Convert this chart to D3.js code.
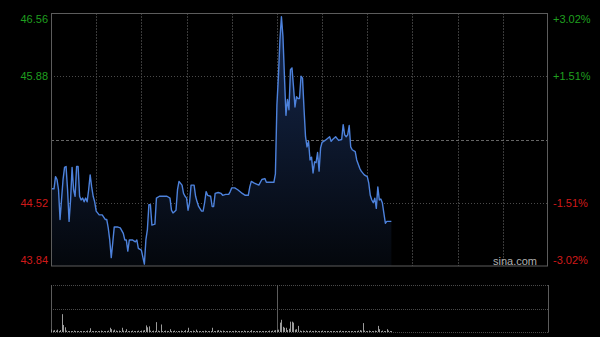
<!DOCTYPE html>
<html>
<head>
<meta charset="utf-8">
<style>
  body { margin: 0; background: #000; }
  svg { display: block; }
</style>
</head>
<body>
<svg id="chart" width="600" height="337"></svg>
<script src="https://d3js.org/d3.v7.min.js"></script>
<script>
// intraday minutes since open (HK session: 330 trading minutes, lunch after 150)
const minutes = [0,2,3,4,5,6,8,9,10,11,12,13,14,15,16,17,18,19,20,21,22,23,24,25,26,27,28,29,30,32,34,36,37,38,39,40,41,42,44,46,48,49,50,51,52,54,56,57,58,60,62,63,64,65,66,67,69,70,72,75,77,79,80,81,83,84,85,87,88,89,90,91,92,93,95,96,97,98,100,101,102,103,104,106,107,108,109,111,113,114,116,118,119,120,122,124,127,129,131,132,133,135,138,140,142,143,145,148,149,150,151,152,153,154,155,156,157,158,159,160,161,162,163,164,165,166,167,168,169,170,171,172,173,174,175,176,177,178,179,180,182,185,186,187,189,190,191,193,194,195,196,197,198,199,200,202,203,205,206,208,210,211,212,213,214,215,216,217,218,219,220,222,223,226]
const prices = [44.67,44.67,44.80,44.77,44.66,44.34,44.77,44.90,44.91,44.66,44.32,44.55,44.90,44.66,44.59,44.91,44.91,44.59,44.55,44.57,44.53,44.57,44.53,44.66,44.82,44.69,44.59,44.53,44.43,44.39,44.39,44.34,44.34,44.25,44.12,43.93,44.09,44.26,44.26,44.25,44.19,44.12,44.12,44.00,44.12,44.12,44.10,44.12,44.03,44.01,43.86,44.12,44.23,44.50,44.50,44.28,44.29,44.57,44.59,44.59,44.59,44.57,44.44,44.41,44.44,44.66,44.75,44.71,44.62,44.59,44.57,44.44,44.52,44.71,44.71,44.59,44.53,44.48,44.43,44.43,44.52,44.64,44.60,44.59,44.48,44.48,44.62,44.63,44.62,44.60,44.61,44.61,44.64,44.68,44.68,44.66,44.62,44.60,44.60,44.69,44.75,44.73,44.71,44.77,44.78,44.74,44.74,44.74,44.83,45.57,45.88,46.27,46.52,46.31,45.88,45.46,45.63,45.52,45.95,45.97,45.77,45.55,45.66,45.64,45.64,45.88,45.86,45.53,45.23,45.12,45.18,44.98,45.01,44.84,44.96,44.95,45.06,44.86,45.11,45.17,45.19,45.23,45.18,45.20,45.23,45.21,45.19,45.20,45.36,45.25,45.23,45.25,45.35,45.12,45.09,45.07,44.98,44.89,44.86,44.82,44.80,44.73,44.60,44.55,44.52,44.57,44.46,44.69,44.55,44.56,44.52,44.30,44.32,44.32]

// volume per minute, minute 0..226
const volumes = [
  5,3,4,3,5,2,4,38,15,10,
  3,2,2,2,2,3,2,2,2,2,
  2,2,2,2,3,2,8,2,2,2,
  2,2,2,3,2,2,2,2,3,9,
  6,3,5,3,2,3,2,9,3,2,
  6,2,2,2,3,2,2,2,3,2,
  3,3,4,14,10,12,3,2,3,2,
  21,3,2,16,2,2,3,2,2,6,
  2,2,3,2,2,2,3,2,2,4,
  2,9,2,2,3,2,5,2,2,2,
  2,2,3,2,2,2,2,9,2,2,
  3,4,3,2,3,2,2,2,2,2,
  2,2,3,2,2,2,2,2,3,2,
  2,2,2,4,2,2,2,2,2,2,
  2,2,2,2,2,3,2,3,3,4,
  4,5,20,26,11,9,9,4,7,22,
  22,20,5,6,13,3,2,3,2,3,
  2,2,3,2,2,3,2,2,2,2,
  3,2,2,2,2,2,2,2,2,2,
  2,2,3,2,2,2,2,2,2,2,
  2,2,2,2,3,4,3,19,3,2,
  2,3,2,2,2,3,2,13,6,2,
  3,2,2,6,3,2,2
]

const priceTicks = [46.56, 45.88, 45.20, 44.52, 43.84]
const leftLabels = ['46.56', '45.88', '', '44.52', '43.84']
const rightLabels = ['+3.02%', '+1.51%', '', '-1.51%', '-3.02%']
const gridMinutes = [30, 60, 90, 120, 150, 180, 210, 240, 270, 300]

const svg = d3.select('#chart')
svg.append('rect').attr('width', 600).attr('height', 337).attr('fill', '#000')

const x = d3.scaleLinear().domain([0, 330]).range([51, 548])
const y = d3.scaleLinear().domain([43.84, 46.56]).range([266, 13])
const yv = d3.scaleLinear().domain([0, 100]).range([332, 285])

// fill gradient
const defs = svg.append('defs')
const grad = defs.append('linearGradient').attr('id', 'fillGrad')
  .attr('gradientUnits', 'userSpaceOnUse')
  .attr('x1', 0).attr('y1', 13).attr('x2', 0).attr('y2', 266)
grad.append('stop').attr('offset', 0).attr('stop-color', '#16294f')
grad.append('stop').attr('offset', 1).attr('stop-color', '#04070c')

// grid - main chart
const grid = svg.append('g')
grid.selectAll('line.v').data(gridMinutes).enter().append('line')
  .attr('x1', d => Math.round(x(d)) + 0.5).attr('x2', d => Math.round(x(d)) + 0.5)
  .attr('y1', 13).attr('y2', 266)
  .attr('stroke', '#3a3a3a').attr('stroke-dasharray', '2,1')
grid.selectAll('line.h').data(priceTicks.slice(1, 4)).enter().append('line')
  .attr('x1', 51).attr('x2', 548)
  .attr('y1', d => Math.round(y(d)) + 0.5).attr('y2', d => Math.round(y(d)) + 0.5)
  .attr('stroke', (d, i) => i === 1 ? '#666' : '#4a4a4a')
  .attr('stroke-dasharray', (d, i) => i === 1 ? '3,2' : '1,2')

// area + line
const pts = minutes.map((m, i) => [m, prices[i]])
svg.append('path').datum(pts)
  .attr('fill', 'url(#fillGrad)')
  .attr('d', d3.area().x(d => x(d[0])).y0(266).y1(d => y(d[1])))
svg.append('path').datum(pts)
  .attr('fill', 'none')
  .attr('stroke', '#4d82dc')
  .attr('stroke-width', 1.4)
  .attr('stroke-linejoin', 'round')
  .attr('d', d3.line().x(d => x(d[0])).y(d => y(d[1])))

// frame
svg.append('rect').attr('x', 51.5).attr('y', 13.5).attr('width', 496).attr('height', 252.5)
  .attr('fill', 'none').attr('stroke', '#5c5c5c')

// labels
const font = '"Liberation Sans", Arial, sans-serif'
const labelY = (d, i) => i === 0 ? y(d) + 6 : i === priceTicks.length - 1 ? y(d) - 6 : y(d)
const colorOf = i => i < 2 ? '#1f9f1f' : '#d01a1a'
svg.selectAll('text.left').data(priceTicks).enter().append('text')
  .attr('x', 48).attr('y', labelY).attr('dy', '0.35em')
  .attr('text-anchor', 'end').attr('font-family', font).attr('font-size', 11)
  .attr('fill', (d, i) => colorOf(i))
  .text((d, i) => leftLabels[i])
svg.selectAll('text.right').data(priceTicks).enter().append('text')
  .attr('x', 553).attr('y', labelY).attr('dy', '0.35em')
  .attr('text-anchor', 'start').attr('font-family', font).attr('font-size', 11)
  .attr('fill', (d, i) => colorOf(i))
  .text((d, i) => rightLabels[i])

svg.append('text').attr('x', 537).attr('y', 261).attr('dy', '0.35em')
  .attr('text-anchor', 'end').attr('font-family', font).attr('font-size', 11)
  .attr('fill', '#b0b0b0').text('sina.com')

// volume panel
const vol = svg.append('g')
vol.selectAll('line.vh').data([100, 50, 0]).enter().append('line')
  .attr('x1', 51).attr('x2', 548)
  .attr('y1', d => Math.round(yv(d)) + 0.5).attr('y2', d => Math.round(yv(d)) + 0.5)
  .attr('stroke', '#4a4a4a').attr('stroke-dasharray', '1,1')
vol.selectAll('line.vv').data([0, 150, 330]).enter().append('line')
  .attr('x1', d => Math.round(x(d)) + 0.5).attr('x2', d => Math.round(x(d)) + 0.5)
  .attr('y1', 285).attr('y2', 332.5)
  .attr('stroke', '#5c5c5c')
vol.selectAll('rect').data(volumes).enter().append('rect')
  .attr('x', (d, i) => Math.round(x(i)))
  .attr('y', d => yv(d))
  .attr('width', 1)
  .attr('height', d => yv(0) - yv(d))
  .attr('fill', '#9a9a9a')
</script>
</body>
</html>
